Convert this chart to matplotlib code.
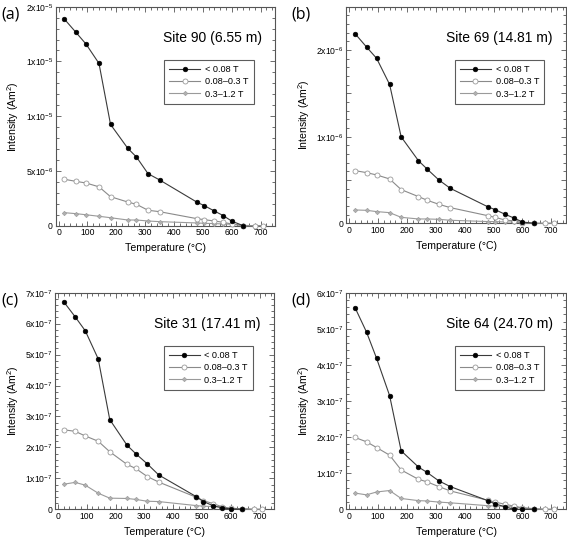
import matplotlib
matplotlib.use("Agg")
import matplotlib.pyplot as plt
from matplotlib.ticker import MultipleLocator, FixedLocator
from matplotlib.lines import Line2D

plt.rcParams['font.family'] = ['Liberation Sans', 'DejaVu Sans']
plt.rcParams['mathtext.fontset'] = 'custom'
plt.rcParams['mathtext.rm'] = 'Liberation Sans'
plt.rcParams['mathtext.it'] = 'Liberation Sans'
plt.rcParams['mathtext.default'] = 'regular'

temps = [20, 60, 95, 140, 180, 240, 270, 310, 350, 480, 505, 540, 570, 600, 640, 680, 710]
temps_low = temps[:15]

series_labels = ['< 0.08 T', '0.08\u20130.3 T', '0.3\u20131.2 T']

# Panel (a) Site 90, units 1e-5
a_low = [1.887, 1.766, 1.659, 1.482, 0.925, 0.706, 0.627, 0.475, 0.418, 0.214, 0.183, 0.134, 0.093, 0.042, 0.0]
a_mid = [0.424, 0.405, 0.390, 0.355, 0.265, 0.216, 0.195, 0.141, 0.128, 0.064, 0.055, 0.043, 0.031, 0.016, 0.0, 0.0, 0.0]
a_high = [0.119, 0.110, 0.100, 0.086, 0.073, 0.052, 0.052, 0.043, 0.037, 0.025, 0.022, 0.019, 0.016, 0.013, 0.003, 0.0, 0.0]

# Panel (b) Site 69, units 1e-6
b_low = [2.19, 2.035, 1.904, 1.603, 0.998, 0.722, 0.626, 0.502, 0.404, 0.191, 0.158, 0.104, 0.062, 0.015, 0.0]
b_mid = [0.608, 0.585, 0.558, 0.512, 0.389, 0.308, 0.266, 0.220, 0.181, 0.088, 0.069, 0.038, 0.027, 0.008, 0.0, 0.0, 0.0]
b_high = [0.154, 0.150, 0.135, 0.123, 0.069, 0.050, 0.050, 0.046, 0.035, 0.020, 0.020, 0.015, 0.015, 0.008, 0.0, 0.0, 0.0]

# Panel (c) Site 31, units 1e-7
c_low = [6.71, 6.22, 5.77, 4.86, 2.90, 2.07, 1.80, 1.47, 1.11, 0.41, 0.25, 0.11, 0.05, 0.01, 0.0]
c_mid = [2.57, 2.52, 2.37, 2.20, 1.86, 1.45, 1.32, 1.06, 0.88, 0.39, 0.28, 0.18, 0.08, 0.03, 0.02, 0.0, 0.0]
c_high = [0.81, 0.87, 0.78, 0.52, 0.36, 0.35, 0.32, 0.26, 0.25, 0.12, 0.10, 0.09, 0.065, 0.03, 0.02, 0.0, 0.0]

# Panel (d) Site 64, units 1e-7
d_low = [5.59, 4.91, 4.18, 3.15, 1.62, 1.17, 1.02, 0.79, 0.63, 0.24, 0.15, 0.07, 0.0, 0.0, 0.0]
d_mid = [1.99, 1.87, 1.71, 1.50, 1.09, 0.83, 0.76, 0.63, 0.51, 0.25, 0.20, 0.14, 0.09, 0.04, 0.01, 0.0, 0.0]
d_high = [0.45, 0.40, 0.48, 0.52, 0.30, 0.24, 0.23, 0.20, 0.18, 0.10, 0.09, 0.08, 0.065, 0.04, 0.02, 0.0, 0.0]

panels = [
    dict(tag='(a)', site='Site 90 (6.55 m)', scale=1e-5, low=a_low, mid=a_mid, high=a_high,
         ylim=2e-5, major=5e-6, minor=1e-6,
         ticklabels=['0', r'5x10$^{-6}$', r'1x10$^{-5}$', r'1x10$^{-5}$', r'2x10$^{-5}$'],
         rect=[55.7, 6.7, 275.0, 225.7]),
    dict(tag='(b)', site='Site 69 (14.81 m)', scale=1e-6, low=b_low, mid=b_mid, high=b_high,
         ylim=2.5e-6, major=5e-7, minor=1e-7,
         ticklabels=['0', '', r'1x10$^{-6}$', '', r'2x10$^{-6}$', ''],
         rect=[346.3, 6.7, 565.7, 223.3]),
    dict(tag='(c)', site='Site 31 (17.41 m)', scale=1e-7, low=c_low, mid=c_mid, high=c_high,
         ylim=7e-7, major=1e-7, minor=2e-8,
         ticklabels=['0'] + [r'%dx10$^{-7}$' % i for i in range(1, 8)],
         rect=[55.0, 292.7, 274.0, 509.3]),
    dict(tag='(d)', site='Site 64 (24.70 m)', scale=1e-7, low=d_low, mid=d_mid, high=d_high,
         ylim=6e-7, major=1e-7, minor=2e-8,
         ticklabels=['0'] + [r'%dx10$^{-7}$' % i for i in range(1, 7)],
         rect=[346.3, 292.7, 565.7, 509.3]),
]

W, H = 567, 543
fig = plt.figure(figsize=(W / 100, H / 100), dpi=100)

frame_col = '#555555'
black_line = '#3a3a3a'
mid_col = '#8a8a8a'
high_col = '#9a9a9a'

low_style = dict(color=black_line, lw=0.8, marker='o', ms=3.4, mfc='black', mec='black', mew=0.4)
mid_style = dict(color=mid_col, lw=0.8, marker='o', ms=3.6, mfc='white', mec='#9a9a9a', mew=0.6)
high_style = dict(color=high_col, lw=0.8, marker='D', ms=2.3, mfc='#b0b0b0', mec='#999999', mew=0.4)

for p in panels:
    l, t, r, b = p['rect']
    ax = fig.add_axes([l / W, (H - b) / H, (r - l) / W, (b - t) / H])
    s = p['scale']
    ax.plot(temps, [v * s for v in p['high']], '-', clip_on=False, zorder=3, **high_style)
    ax.plot(temps, [v * s for v in p['mid']], '-', clip_on=False, zorder=4, **mid_style)
    ax.plot(temps_low, [v * s for v in p['low']], '-', clip_on=False, zorder=5, **low_style)
    ax.set_xlim(-10, 750)
    ax.set_ylim(0, p['ylim'])
    ax.xaxis.set_major_locator(FixedLocator(range(0, 701, 100)))
    ax.xaxis.set_minor_locator(MultipleLocator(20))
    n = len(p['ticklabels'])
    ax.yaxis.set_major_locator(FixedLocator([i * p['major'] for i in range(n)]))
    ax.set_yticklabels(p['ticklabels'])
    ax.yaxis.set_minor_locator(MultipleLocator(p['minor']))
    ax.tick_params(which='both', direction='in', top=True, right=True, colors=frame_col,
                   labelcolor='black', labelsize=6.2, width=0.6, pad=2)
    ax.tick_params(which='major', length=3.5)
    ax.tick_params(which='minor', length=2)
    for sp in ax.spines.values():
        sp.set_color(frame_col)
        sp.set_linewidth(0.8)
    ax.set_xlabel('Temperature (\u00b0C)', fontsize=7.6, labelpad=4)
    ax.set_ylabel('Intensity (Am$^{2}$)', fontsize=7.6, labelpad=3)
    fig.text((l - 45) / W, (H - t - 8) / H, p['tag'], fontsize=11.5,
             family=['Open Sans', 'DejaVu Sans'], ha='center', va='center')
    ax.text(0.94, 0.855, p['site'], transform=ax.transAxes, fontsize=10,
            ha='right', va='center')
    handles = [Line2D([], [], **low_style), Line2D([], [], **mid_style), Line2D([], [], **high_style)]
    lx = 108.5 / (r - l)
    ly = 1 - 53.5 / (b - t)
    leg = ax.legend(handles, series_labels, loc='upper left', bbox_to_anchor=(lx, ly),
                    fontsize=6.6, frameon=True, fancybox=False, handlelength=3.4,
                    handletextpad=0.5, borderpad=0.55, labelspacing=0.35, borderaxespad=0)
    leg.get_frame().set_edgecolor('#333333')
    leg.get_frame().set_linewidth(0.8)

fig.savefig('out.png', dpi=100)
